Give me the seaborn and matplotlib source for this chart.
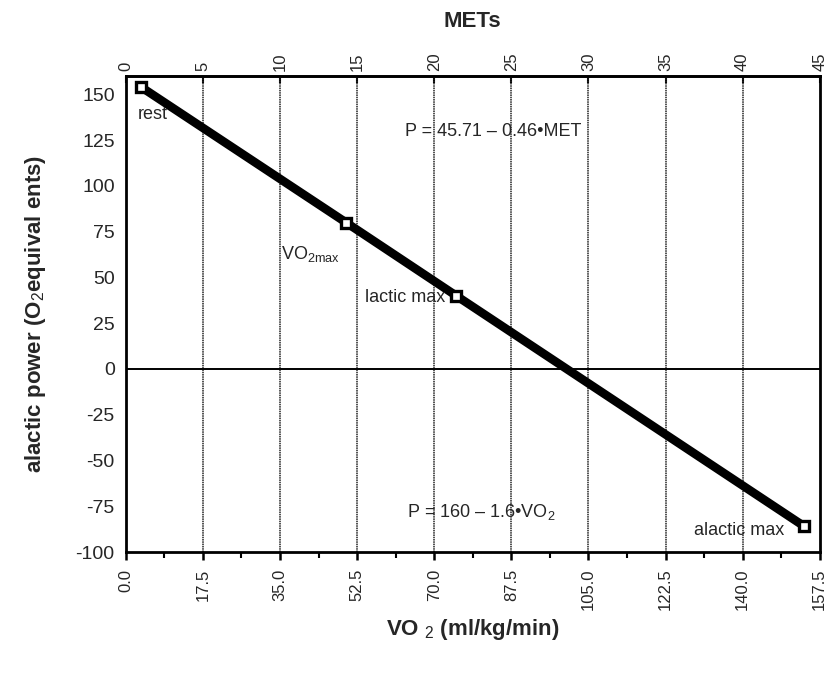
import numpy as np
import pandas as pd
import matplotlib
matplotlib.use("Agg")
import matplotlib.pyplot as plt
import seaborn as sns

# ---- data ----
vo2 = [3.5, 50.0, 75.0, 154.0]           # ml/kg/min
power = [154.0, 80.0, 40.0, -86.0]       # alactic power (O2 equivalents)
point_names = ["rest", "VO$_{2max}$", "lactic max", "alactic max"]
x_ticks = [0.0, 17.5, 35.0, 52.5, 70.0, 87.5, 105.0, 122.5, 140.0, 157.5]
y_ticks = [-100, -75, -50, -25, 0, 25, 50, 75, 100, 125, 150]
met_ticks = [0, 5, 10, 15, 20, 25, 30, 35, 40, 45]
MET_FACTOR = 3.5

df = pd.DataFrame({"vo2": vo2, "power": power, "name": point_names})

sns.set_theme(style="white")
FONT = ["Liberation Sans Narrow", "Liberation Sans", "DejaVu Sans"]
plt.rcParams["font.family"] = FONT
plt.rcParams["mathtext.fontset"] = "custom"
plt.rcParams["mathtext.rm"] = "Liberation Sans"
plt.rcParams["mathtext.it"] = "Liberation Sans"
plt.rcParams["mathtext.bf"] = "Liberation Sans:bold"

fig = plt.figure(figsize=(8.28, 6.74), dpi=100)
ax = fig.add_axes([0.152, 0.181, 0.838, 0.706])

# vertical grid + zero line
for xt in x_ticks[1:-1]:
    ax.axvline(xt, color="#222222", lw=1.1, ls=(0, (1, 0.5)), zorder=1)
ax.axhline(0, color="black", lw=1.4, zorder=1)

sns.lineplot(data=df, x="vo2", y="power", color="black", lw=6.2,
             ax=ax, zorder=3, legend=False)
ax.plot(df["vo2"], df["power"], ls="none", marker="s", ms=7.5,
        mfc="white", mec="black", mew=2.4, zorder=4)

# point labels
ax.text(2.7, 139, "rest", fontsize=13, ha="left", va="center")
ax.text(48.5, 63, "VO$_{2max}$", fontsize=13, ha="right", va="center")
ax.text(72.5, 39, "lactic max", fontsize=13, ha="right", va="center")
ax.text(149.5, -88, "alactic max", fontsize=13, ha="right", va="center")

# equations
ax.text(63.3, 130, "P = 45.71 – 0.46•MET", fontsize=13, ha="left", va="center")
ax.text(63.8, -78, "P = 160 – 1.6•VO$_2$", fontsize=13, ha="left", va="center")

ax.set_xlim(0, 157.5)
ax.set_ylim(-100, 160)
ax.set_xticks(x_ticks)
ax.set_xticklabels([f"{v:.1f}" for v in x_ticks], rotation=90, fontsize=12)
ax.set_xticks([v + 8.75 for v in x_ticks[:-1]], minor=True)
ax.set_yticks(y_ticks)
ax.set_yticklabels([str(v) for v in y_ticks], fontsize=14)
ax.tick_params(axis="x", which="major", direction="out", length=6, width=1.8,
               color="black", bottom=True, pad=6)
ax.tick_params(axis="x", which="minor", direction="out", length=4, width=1.5,
               color="black", bottom=True)
ax.tick_params(axis="y", length=0, pad=8)

for sp in ax.spines.values():
    sp.set_color("black")
    sp.set_linewidth(2)

ax.set_xlabel("VO $_2$ (ml/kg/min)", fontsize=16, fontweight="bold", labelpad=5)
ax.set_ylabel("alactic power (O$_2$equival ents)", fontsize=16,
              fontweight="bold", labelpad=20)

top = ax.secondary_xaxis("top", functions=(lambda v: v / MET_FACTOR,
                                           lambda m: m * MET_FACTOR))
top.set_xticks(met_ticks)
top.set_xticklabels([str(m) for m in met_ticks], rotation=90, fontsize=12)
top.tick_params(direction="in", length=5, width=1.5, color="black", pad=4)
top.spines["top"].set_linewidth(2)
top.set_xlabel("METs", fontsize=16, fontweight="bold", labelpad=18)

fig.savefig("out.png", dpi=100)
